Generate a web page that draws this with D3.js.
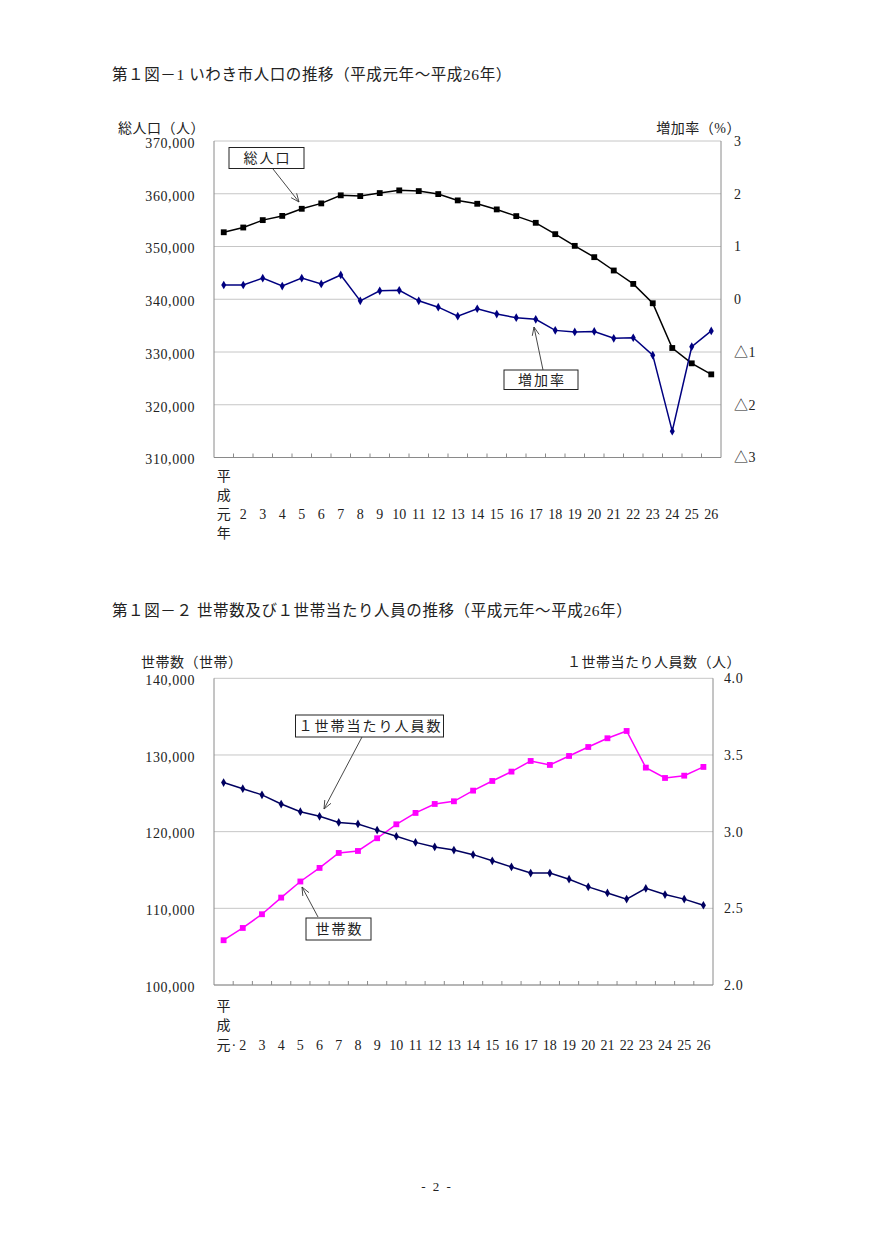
<!DOCTYPE html>
<html><head><meta charset="utf-8">
<script src="https://cdn.jsdelivr.net/npm/d3@7"></script>
<style>
body{margin:0;background:#fff;}
text{font-family:"Liberation Serif","Noto Sans CJK JP",serif;fill:#222;}
</style></head>
<body>
<svg id="c" width="874" height="1236"></svg>
<script>
// ---- data ----
const years = ["元","2","3","4","5","6","7","8","9","10","11","12","13","14","15","16","17","18","19","20","21","22","23","24","25","26"];
const totalPop = [352700,353600,355000,355800,357150,358170,359700,359560,360130,360640,360500,359940,358740,358100,357030,355760,354490,352340,350120,347980,345450,342910,339240,330760,327850,325760];
const growthRate = [0.27,0.27,0.40,0.25,0.40,0.29,0.46,-0.03,0.16,0.17,-0.03,-0.15,-0.32,-0.18,-0.28,-0.35,-0.38,-0.59,-0.62,-0.61,-0.74,-0.73,-1.06,-2.50,-0.90,-0.60];
const households = [105840,107440,109230,111400,113500,115270,117220,117480,119140,120960,122440,123610,123960,125350,126610,127830,129220,128700,129870,131040,132180,133130,128350,127000,127300,128440];
const perHousehold = [3.32,3.28,3.24,3.18,3.13,3.10,3.06,3.05,3.01,2.97,2.93,2.90,2.88,2.85,2.81,2.77,2.73,2.73,2.69,2.64,2.60,2.56,2.63,2.59,2.56,2.52];
const popTicks = [310000,320000,330000,340000,350000,360000,370000];
const rateTicks = [-3,-2,-1,0,1,2,3];
const hhTicks = [100000,110000,120000,130000,140000];
const phTicks = [2.0,2.5,3.0,3.5,4.0];

const svg = d3.select("#c");
const FONT = 14;
const FF = '"Liberation Serif","Noto Sans CJK JP",serif';

function title(t, x, y){ svg.append("text").attr("x",x).attr("y",y).attr("font-size",15.5).attr("letter-spacing",0.6).text(t); }
function frame(g, x, W, H){
  g.append("line").attr("x1",0).attr("x2",0).attr("y1",0).attr("y2",H).attr("stroke","#8a8a8a");
  g.append("line").attr("x1",W).attr("x2",W).attr("y1",0).attr("y2",H).attr("stroke","#8a8a8a");
  g.append("line").attr("x1",0).attr("x2",W).attr("y1",H).attr("y2",H).attr("stroke","#8a8a8a");
  years.forEach((d,i)=>{ if(i===0) return;
    const xx = x(d);
    g.append("line").attr("x1",xx).attr("x2",xx).attr("y1",H).attr("y2",H-4).attr("stroke","#8a8a8a");
  });
}
function grid(g, y, ticks, W){
  ticks.forEach(t=>{ g.append("line").attr("x1",0).attr("x2",W).attr("y1",y(t)).attr("y2",y(t)).attr("stroke","#c6c6c6"); });
}
function arrow(x1,y1,x2,y2){
  svg.append("line").attr("x1",x1).attr("y1",y1).attr("x2",x2).attr("y2",y2).attr("stroke","#333").attr("stroke-width",0.9);
  const a = Math.atan2(y2-y1,x2-x1), L=9, s=0.4;
  [a+Math.PI-s, a+Math.PI+s].forEach(b=>{
    svg.append("line").attr("x1",x2).attr("y1",y2).attr("x2",x2+L*Math.cos(b)).attr("y2",y2+L*Math.sin(b)).attr("stroke","#333").attr("stroke-width",0.9);
  });
}
function box(t,x0,y0,x1,y1){
  svg.append("rect").attr("x",x0).attr("y",y0).attr("width",x1-x0).attr("height",y1-y0).attr("fill","#fff").attr("stroke","#222").attr("stroke-width",1);
  svg.append("text").attr("x",(x0+x1)/2+1).attr("y",(y0+y1)/2+5).attr("text-anchor","middle").attr("font-size",14).attr("letter-spacing",2).text(t);
}
function series(g, x, y, data, color, shape, size){
  const line = d3.line().x((d,i)=>x(years[i])+x.bandwidth()/2).y(d=>y(d));
  g.append("path").datum(data).attr("d",line).attr("fill","none").attr("stroke",color).attr("stroke-width",1.5);
  const sym = d3.symbol().type(shape).size(size);
  g.selectAll(null).data(data).enter().append("path")
    .attr("transform",(d,i)=>`translate(${x(years[i])+x.bandwidth()/2},${y(d)})`)
    .attr("d",sym).attr("fill",color);
}
function rightAxis(g, y, ticks, W, pad, fmt){
  const ax = d3.axisRight(y).tickValues(ticks).tickSize(0).tickPadding(pad).tickFormat(fmt);
  const a = g.append("g").attr("transform",`translate(${W},0)`).call(ax);
  a.select(".domain").remove();
  a.selectAll("text").attr("font-size",FONT).attr("font-family",FF).attr("fill","#222").attr("letter-spacing",0.6);
}
function leftAxis(g, y, ticks, pad){
  const ax = d3.axisLeft(y).tickValues(ticks).tickSize(0).tickPadding(pad).tickFormat(d3.format(","));
  const a = g.append("g").call(ax);
  a.select(".domain").remove();
  a.selectAll("text").attr("font-size",FONT).attr("font-family",FF).attr("fill","#222").attr("dy","0.45em").attr("letter-spacing",0.6);
}

// ---- Chart 1 ----
title("第１図－1 いわき市人口の推移（平成元年～平成26年）", 112, 80);
{
  const L=214, T=141, W=721-214, H=457.5-141;
  const g = svg.append("g").attr("transform",`translate(${L},${T})`);
  const x = d3.scaleBand().domain(years).range([0,W]);
  const y = d3.scaleLinear().domain([310000,370000]).range([H,0]);
  const y2 = d3.scaleLinear().domain([-3,3]).range([H,0]);
  grid(g,y,popTicks,W);
  frame(g,x,W,H);
  leftAxis(g,y,popTicks,19);
  rightAxis(g,y2,rateTicks,W,13,d=> d<0 ? "△"+(-d) : String(d));
  series(g,x,y,totalPop,"#000",d3.symbolSquare,34);
  series(g,x,y2,growthRate,"#000080",d3.symbolDiamond,22);
  const cx = d=>x(d)+x.bandwidth()/2;
  const lab = g.append("g");
  ["平","成","元","年"].forEach((c,i)=>lab.append("text").attr("x",cx("元")).attr("y",H+23+i*19.3).attr("text-anchor","middle").attr("font-size",FONT).text(c));
  years.slice(1).forEach(d=>lab.append("text").attr("x",cx(d)).attr("y",H+23+2*19.3).attr("text-anchor","middle").attr("font-size",FONT).text(d));
  svg.append("text").attr("x",118).attr("y",133).attr("font-size",FONT).attr("letter-spacing",0.5).text("総人口（人）");
  svg.append("text").attr("x",741).attr("y",133).attr("text-anchor","end").attr("font-size",FONT).attr("letter-spacing",0.5).text("増加率（%）");
}
box("総人口",229,147.5,304,168.5);
arrow(273,169,299,202);
box("増加率",504,370,578,389.5);
arrow(543,370,534,327);

// ---- Chart 2 ----
title("第１図－２ 世帯数及び１世帯当たり人員の推移（平成元年～平成26年）", 112, 616);
{
  const L=214, T=678.3, W=713-214, H=985-678.3;
  const g = svg.append("g").attr("transform",`translate(${L},${T})`);
  const x = d3.scaleBand().domain(years).range([0,W]);
  const y = d3.scaleLinear().domain([100000,140000]).range([H,0]);
  const y2 = d3.scaleLinear().domain([2.0,4.0]).range([H,0]);
  grid(g,y,hhTicks,W);
  frame(g,x,W,H);
  leftAxis(g,y,hhTicks,19);
  rightAxis(g,y2,phTicks,W,11,d3.format(".1f"));
  series(g,x,y,households,"#ff00ff",d3.symbolSquare,34);
  series(g,x,y2,perHousehold,"#000060",d3.symbolDiamond,22);
  const cx = d=>x(d)+x.bandwidth()/2;
  const lab = g.append("g");
  ["平","成","元"].forEach((c,i)=>lab.append("text").attr("x",cx("元")).attr("y",H+26+i*19.5).attr("text-anchor","middle").attr("font-size",FONT).text(c));
  lab.append("text").attr("x",cx("元")+8).attr("y",H+26+2*19.5).attr("font-size",FONT).text("·");
  years.slice(1).forEach(d=>lab.append("text").attr("x",cx(d)).attr("y",H+26+2*19.5).attr("text-anchor","middle").attr("font-size",FONT).text(d));
  svg.append("text").attr("x",141).attr("y",667).attr("font-size",FONT).attr("letter-spacing",0.5).text("世帯数（世帯）");
  svg.append("text").attr("x",741).attr("y",667).attr("text-anchor","end").attr("font-size",FONT).attr("letter-spacing",0.5).text("１世帯当たり人員数（人）");
}
box("１世帯当たり人員数",295.5,715,443.5,737);
arrow(362,737,324,809);
box("世帯数",306,918,371,940);
arrow(318,917,302,887);

svg.append("text").attr("x",437).attr("y",1191).attr("text-anchor","middle").attr("font-size",13).attr("letter-spacing",2).text("- 2 -");
</script>
</body></html>
